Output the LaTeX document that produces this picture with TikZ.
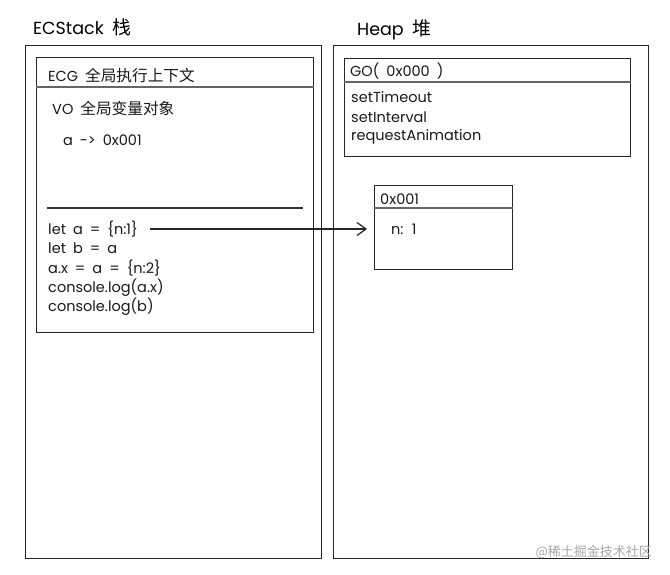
\documentclass[tikz,border=0pt]{standalone}
\usepackage{fontspec}
\setmainfont{Poppins}
\newfontfamily\cjk[Scale=1.08]{Noto Sans CJK SC}
\newfontfamily\cjkwm{Noto Sans CJK SC}
\newcommand\myTxtFont{\fontsize{14.5}{17}\selectfont\spaceskip=7pt\relax}
\newcommand\myTtlFont{\fontsize{17.5}{20}\selectfont\spaceskip=9pt\relax}
\usetikzlibrary{arrows.meta}
\begin{document}
\begin{tikzpicture}[x=1pt,y=-1pt,
  box/.style={draw=black!85, line width=1.4pt, anchor=north west, inner sep=0pt},
  hdr/.style={draw=black!60, line width=2pt},
  sep/.style={draw=black!80, line width=1.2pt},
  txt/.style={anchor=west, inner sep=0pt, text=black!90, font=\myTxtFont},
  ttl/.style={anchor=west, inner sep=0pt, text=black, font=\myTtlFont},
  link/.style={draw=black!85, line width=1.2pt, -{Straight Barb[length=9pt,width=13pt,line width=1.2pt]}}]
\useasboundingbox (0,0) rectangle (670,574);
% titles
\node[ttl] (t1) at (33,27) {ECStack {\cjk 栈}};
\node[ttl] (t2) at (357,30) {Heap {\cjk 堆}};
% stack side
\node[box, minimum width=296pt, minimum height=513pt] (stack) at (25,45) {};
\node[box, minimum width=277pt, minimum height=275pt] (ecg) at (36,57) {};
\draw[hdr] (ecg.west |- 0,87) -- (ecg.east |- 0,87);
\draw[sep] (47,208) -- (303,208);
\node[txt] (ecgt) at (48,75) {ECG {\cjk 全局执行上下文}};
\node[txt] (vo) at (52,108) {VO {\cjk 全局变量对象}};
\node[txt] (va) at (63,140) {a -> 0x001};
\node[txt] (c1) at (48,229) {let a = \{n:1\}};
\node[txt] (c2) at (48,248) {let b = a};
\node[txt] (c3) at (48,268) {a.x = a = \{n:2\}};
\node[txt] (c4) at (48,288) {console.log(a.x)};
\node[txt] (c5) at (48,307) {console.log(b)};
% heap side
\node[box, minimum width=315pt, minimum height=513pt] (heap) at (333,45) {};
\node[box, minimum width=286pt, minimum height=98pt] (go) at (344,58) {};
\draw[hdr] (go.west |- 0,82) -- (go.east |- 0,82);
\node[txt] (got) at (350,71) {GO( 0x000 )};
\node[txt] (g1) at (351,97) {setTimeout};
\node[txt] (g2) at (351,117) {setInterval};
\node[txt] (g3) at (351,137) {requestAnimation};
\node[box, minimum width=138pt, minimum height=84pt] (obj) at (374,185) {};
\draw[hdr] (obj.west |- 0,208) -- (obj.east |- 0,208);
\node[txt] (objt) at (380,199) {0x001};
\node[txt] (objn) at (391,229) {n: 1};
% connector
\draw[link] ([xshift=12pt]c1.east) -- ([xshift=-7pt]c1.east -| obj.west);
% watermark
\node[anchor=east, inner sep=0pt, text=black!35, font=\cjkwm\fontsize{13}{15}\selectfont] (wm) at (652,552) {@稀土掘金技术社区};
\end{tikzpicture}
\end{document}
